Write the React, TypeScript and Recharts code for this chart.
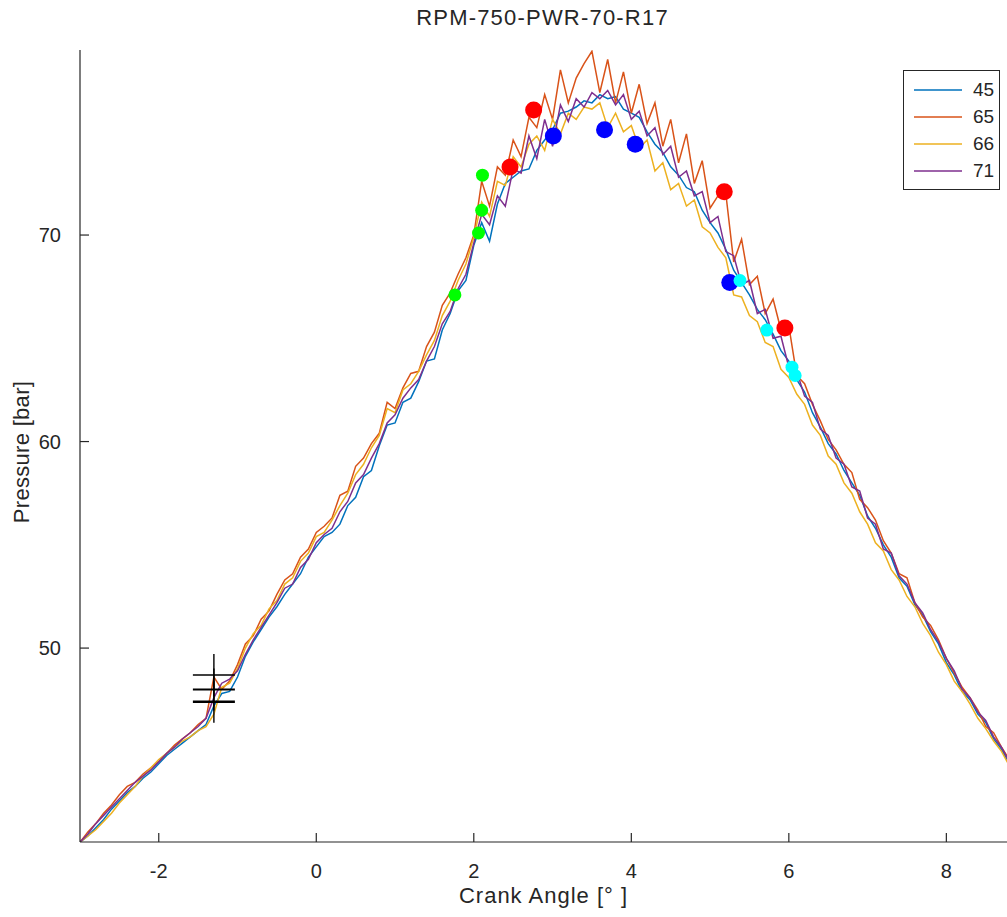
import { ComposedChart, Line, Scatter, XAxis, YAxis } from 'recharts';

// crank angle grid [deg]
const angles = [
  -3.0, -2.9, -2.8, -2.7, -2.6, -2.5, -2.4, -2.3, -2.2, -2.1, -2.0, -1.9, -1.8, -1.7, -1.6, -1.5, -1.4, -1.3, -1.2, -1.1,
  -1.0, -0.9, -0.8, -0.7, -0.6, -0.5, -0.4, -0.3, -0.2, -0.1, 0.0, 0.1, 0.2, 0.3, 0.4, 0.5, 0.6, 0.7, 0.8, 0.9,
  1.0, 1.1, 1.2, 1.3, 1.4, 1.5, 1.6, 1.7, 1.8, 1.9, 2.0, 2.1, 2.2, 2.3, 2.4, 2.5, 2.6, 2.7, 2.8, 2.9,
  3.0, 3.1, 3.2, 3.3, 3.4, 3.5, 3.6, 3.7, 3.8, 3.9, 4.0, 4.1, 4.2, 4.3, 4.4, 4.5, 4.6, 4.7, 4.8, 4.9,
  5.0, 5.1, 5.2, 5.3, 5.4, 5.5, 5.6, 5.7, 5.8, 5.9, 6.0, 6.1, 6.2, 6.3, 6.4, 6.5, 6.6, 6.7, 6.8, 6.9,
  7.0, 7.1, 7.2, 7.3, 7.4, 7.5, 7.6, 7.7, 7.8, 7.9, 8.0, 8.1, 8.2, 8.3, 8.4, 8.5, 8.6, 8.7, 8.8,
];

const p45 = [
  40.6, 40.9, 41.3, 41.7, 42.2, 42.6, 43.0, 43.3, 43.7, 44.0, 44.4, 44.8, 45.1, 45.4, 45.7, 46.0, 46.3, 47.2, 47.8, 47.9,
  48.6, 49.6, 50.3, 50.9, 51.5, 52.0, 52.6, 53.1, 53.6, 54.4, 54.9, 55.4, 55.6, 56.0, 56.9, 57.3, 58.3, 58.6, 59.8, 60.8,
  60.9, 61.9, 62.1, 62.9, 63.9, 64.0, 65.4, 66.2, 67.3, 67.8, 69.5, 70.6, 69.7, 71.5, 72.5, 72.8, 73.1, 73.2, 74.1, 74.6,
  75.1, 75.9, 76.0, 76.2, 76.5, 76.4, 76.8, 76.6, 76.7, 76.1, 75.9, 75.7, 75.0, 74.4, 74.0, 73.3, 72.9, 72.3, 72.1, 71.2,
  70.6, 70.1, 69.3, 68.3, 67.7, 67.1, 66.4, 65.9, 65.2, 64.4, 63.9, 63.0, 62.4, 61.4, 60.7, 59.9, 59.4, 58.6, 58.0, 57.4,
  56.4, 55.8, 55.0, 54.4, 53.4, 53.0, 52.1, 51.6, 50.8, 50.2, 49.3, 48.7, 47.9, 47.5, 46.8, 46.4, 45.6, 45.1, 44.4,
];

const p65 = [
  40.6, 41.1, 41.5, 42.0, 42.4, 42.9, 43.3, 43.5, 43.9, 44.2, 44.5, 44.9, 45.3, 45.6, 45.9, 46.3, 46.6, 48.6, 48.0, 48.4,
  49.2, 50.2, 50.6, 51.4, 51.8, 52.6, 53.3, 53.6, 54.4, 54.8, 55.6, 55.9, 56.3, 57.4, 57.6, 58.8, 59.2, 59.9, 60.4, 61.9,
  61.6, 62.6, 63.3, 63.4, 64.6, 65.3, 66.6, 67.2, 68.1, 68.9, 70.0, 72.6, 71.4, 73.3, 72.9, 74.6, 73.8, 75.7, 75.2, 76.8,
  75.6, 78.0, 76.4, 77.6, 78.3, 78.9, 76.9, 78.5, 76.4, 77.9, 75.9, 77.3, 75.4, 76.4, 74.3, 75.6, 73.5, 74.9, 72.5, 73.6,
  71.3, 71.9, 72.0, 68.7, 69.8, 67.6, 68.0, 66.2, 66.9, 65.4, 65.6, 63.2, 62.8, 61.8, 61.0, 60.1, 59.6, 58.9, 58.5, 57.2,
  56.8, 56.2, 55.2, 54.6, 53.6, 53.4, 52.2, 51.5, 51.1, 50.4, 49.5, 48.8, 48.1, 47.6, 47.0, 46.2, 45.9, 45.2, 44.6,
];

const p66 = [
  40.6, 40.9, 41.2, 41.6, 42.0, 42.5, 42.9, 43.3, 43.8, 44.2, 44.6, 44.9, 45.2, 45.5, 45.7, 46.0, 46.2, 46.8, 48.1, 48.3,
  49.0, 50.0, 50.7, 51.1, 51.9, 52.3, 53.1, 53.4, 54.2, 54.6, 55.4, 55.6, 56.2, 56.9, 57.5, 58.4, 58.9, 59.7, 60.3, 61.6,
  61.4, 62.5, 62.8, 63.4, 64.2, 64.9, 66.1, 66.8, 67.8, 68.6, 69.9, 71.6, 70.9, 72.6, 72.4, 73.8, 73.3, 74.4, 74.8, 74.1,
  75.6, 74.9, 75.9, 75.6, 76.2, 76.1, 76.4, 75.2, 75.9, 75.0, 75.3, 74.2, 74.6, 73.1, 73.5, 72.2, 72.5, 71.4, 71.7, 70.4,
  70.1, 69.4, 68.9, 67.1, 67.0, 66.1, 65.8, 64.8, 64.6, 63.5, 63.1, 62.3, 61.8, 60.8, 60.3, 59.3, 58.9, 58.0, 57.5, 56.6,
  56.0, 55.1, 54.7, 53.8, 53.3, 52.5, 52.0, 51.2, 50.6, 49.8, 49.2, 48.4, 47.9, 47.3, 46.6, 46.1, 45.5, 45.0, 44.3,
];

const p71 = [
  40.6, 41.0, 41.5, 41.9, 42.3, 42.7, 43.1, 43.5, 43.8, 44.1, 44.5, 44.9, 45.2, 45.6, 45.9, 46.2, 46.6, 47.6, 48.3, 48.5,
  48.9, 49.7, 50.4, 51.0, 51.6, 52.2, 52.9, 53.1, 53.9, 54.3, 55.1, 55.5, 55.8, 56.6, 57.1, 58.0, 58.4, 59.2, 59.9, 60.9,
  61.3, 62.1, 62.6, 63.0, 63.9, 64.6, 65.7, 66.3, 67.4, 68.1, 69.6, 71.0, 70.5, 71.9, 71.4, 73.2, 73.0, 74.8, 73.7, 75.6,
  74.3, 76.3, 75.5, 76.6, 76.2, 76.9, 76.6, 77.0, 76.3, 76.8, 75.6, 76.0, 74.8, 75.2, 73.9, 74.3, 72.8, 73.1, 71.9, 72.1,
  70.6, 70.9, 69.2, 69.0, 67.6, 67.8, 66.2, 66.4, 65.0, 65.1, 63.6, 63.4, 62.2, 61.9, 60.6, 60.3, 59.2, 58.9, 57.8, 57.6,
  56.3, 56.0, 54.8, 54.6, 53.5, 53.1, 52.2, 51.7, 50.9, 50.3, 49.5, 48.9, 48.0, 47.6, 46.9, 46.5, 45.7, 45.2, 44.5,
];

// marked points
const redPts = [
  { x: 2.46, y: 73.3 },
  { x: 2.76, y: 76.05 },
  { x: 5.18, y: 72.1 },
  { x: 5.95, y: 65.5 },
];
const bluePts = [
  { x: 3.01, y: 74.8 },
  { x: 3.66, y: 75.1 },
  { x: 4.05, y: 74.4 },
  { x: 5.25, y: 67.7 },
];
const greenPts = [
  { x: 1.76, y: 67.1 },
  { x: 2.06, y: 70.1 },
  { x: 2.1, y: 71.2 },
  { x: 2.11, y: 72.9 },
];
const cyanPts = [
  { x: 5.38, y: 67.8 },
  { x: 5.72, y: 65.4 },
  { x: 6.04, y: 63.6 },
  { x: 6.08, y: 63.2 },
];
const crossPts = [
  { x: -1.3, y: 48.7, w: 1.4 },
  { x: -1.3, y: 48.0, w: 2 },
  { x: -1.3, y: 47.4, w: 2.6 },
];

const xTicks = [-2, 0, 2, 4, 6, 8];
const yTicks = [50, 60, 70];

const seriesNames = ['45', '65', '66', '71'];
const colors = ['#0072BD', '#D95319', '#EDB120', '#7E2F8E'];

const rows = angles.map((a, i) => ({ x: a, s45: p45[i], s65: p65[i], s66: p66[i], s71: p71[i] }));
const keys = ['s45', 's65', 's66', 's71'];

const axisColor = '#262626';
const font = '"Liberation Sans", Arial, sans-serif';

const XTick = (props: any) => {
  const { x, y, payload } = props;
  return (
    <g>
      <line x1={x} y1={y} x2={x} y2={y - 9} stroke={axisColor} strokeWidth={1.2} />
      <text x={x} y={y + 36} textAnchor="middle" fill={axisColor} fontSize={20} fontFamily={font}>
        {payload.value}
      </text>
    </g>
  );
};

const YTick = (props: any) => {
  const { x, y, payload } = props;
  return (
    <g>
      <line x1={x} y1={y} x2={x + 9} y2={y} stroke={axisColor} strokeWidth={1.2} />
      <text x={x - 19} y={y} dy="0.35em" textAnchor="end" fill={axisColor} fontSize={20} fontFamily={font}>
        {payload.value}
      </text>
    </g>
  );
};

const dot = (r: number, fill: string) => (props: any) => (
  <circle cx={props.cx} cy={props.cy} r={r} fill={fill} />
);

const cross = (props: any) => {
  const { cx, cy, payload } = props;
  return (
    <g stroke="#000">
      <line x1={cx - 21} y1={cy} x2={cx + 21} y2={cy} strokeWidth={payload.w} />
      <line x1={cx} y1={cy - 21} x2={cx} y2={cy + 21} strokeWidth={1.4} />
    </g>
  );
};

export default function App() {
  return (
    <div style={{ position: 'absolute', left: 0, top: 0, width: 1007, height: 917, background: '#fff', fontFamily: font }}>
      <ComposedChart width={1007} height={917} data={rows} margin={{ top: 50, right: 0, bottom: 0, left: 0 }}>
        <XAxis
          type="number"
          dataKey="x"
          domain={[-3, 8.77]}
          allowDataOverflow
          ticks={xTicks}
          height={75}
          tickLine={false}
          tickSize={0}
          tickMargin={0}
          tick={<XTick />}
          axisLine={{ stroke: axisColor, strokeWidth: 1.2 }}
        />
        <YAxis
          type="number"
          domain={[40.61, 78.96]}
          allowDataOverflow
          ticks={yTicks}
          width={80}
          tickLine={false}
          tickSize={0}
          tickMargin={0}
          tick={<YTick />}
          axisLine={{ stroke: axisColor, strokeWidth: 1.2 }}
        />
        {keys.map((k, i) => (
          <Line
            key={k}
            type="linear"
            dataKey={k}
            stroke={colors[i]}
            strokeWidth={1.5}
            dot={false}
            isAnimationActive={false}
          />
        ))}
        <Scatter data={redPts} dataKey="y" shape={dot(8.5, '#FF0000')} isAnimationActive={false} />
        <Scatter data={bluePts} dataKey="y" shape={dot(8.5, '#0000FF')} isAnimationActive={false} />
        <Scatter data={greenPts} dataKey="y" shape={dot(6.5, '#00FF00')} isAnimationActive={false} />
        <Scatter data={cyanPts} dataKey="y" shape={dot(6.5, '#00FFFF')} isAnimationActive={false} />
        <Scatter data={crossPts} dataKey="y" shape={cross} isAnimationActive={false} />
      </ComposedChart>

      <div
        style={{
          position: 'absolute',
          top: 5,
          left: 0,
          width: 1085,
          textAlign: 'center',
          fontSize: 22,
          letterSpacing: 1.2,
          color: axisColor,
        }}
      >
        RPM-750-PWR-70-R17
      </div>
      <div
        style={{
          position: 'absolute',
          top: 883,
          left: 80,
          width: 927,
          textAlign: 'center',
          fontSize: 22,
          letterSpacing: 1,
          color: axisColor,
        }}
      >
        Crank Angle [° ]
      </div>
      <div
        style={{
          position: 'absolute',
          left: 22,
          top: 452,
          transform: 'translate(-50%, -50%) rotate(-90deg)',
          whiteSpace: 'nowrap',
          fontSize: 22,
          letterSpacing: 0.3,
          color: axisColor,
        }}
      >
        Pressure [bar]
      </div>

      <div
        style={{
          position: 'absolute',
          left: 903,
          top: 70,
          width: 97,
          height: 120,
          border: `1px solid ${axisColor}`,
          background: '#fff',
          boxSizing: 'border-box',
        }}
      >
        {seriesNames.map((n, i) => (
          <div key={n} style={{ position: 'absolute', left: 10, top: 8 + i * 27, height: 22, display: 'flex', alignItems: 'center' }}>
            <svg width={50} height={4}>
              <line x1={0} y1={2} x2={48} y2={2} stroke={colors[i]} strokeWidth={1.6} />
            </svg>
            <span style={{ marginLeft: 9, fontSize: 19, color: axisColor }}>{n}</span>
          </div>
        ))}
      </div>
    </div>
  );
}
